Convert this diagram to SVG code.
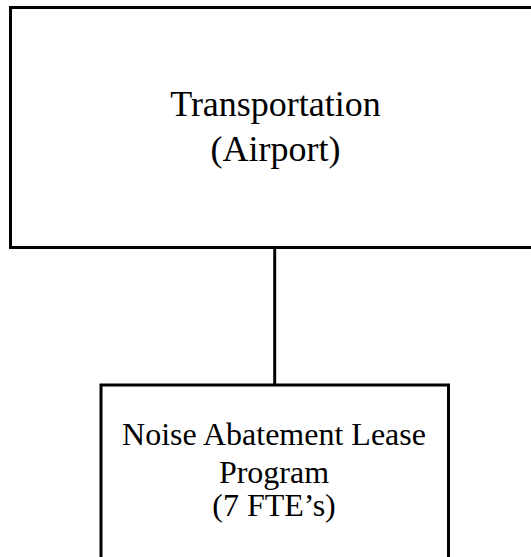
<svg xmlns="http://www.w3.org/2000/svg" width="531" height="557" viewBox="0 0 531 557">
<style>
.box{fill:#fff;stroke:#000;stroke-width:3}
.t1{font-family:"Liberation Serif","Times New Roman",serif;font-size:36px;fill:#000;text-anchor:middle}
.t2{font-family:"Liberation Serif","Times New Roman",serif;font-size:32px;fill:#000;text-anchor:middle}
.conn{stroke:#000;stroke-width:3;fill:none}
</style>
<rect width="531" height="557" fill="#fff"/>
<g id="connectors">
<line class="conn" x1="274.7" y1="247.5" x2="274.7" y2="385"/>
</g>
<g id="node-transportation">
<rect class="box" x="10.5" y="7.5" width="530" height="240"/>
<text class="t1" x="275.5" y="115.7">Transportation</text>
<text class="t1" x="275.5" y="160.7">(Airport)</text>
</g>
<g id="node-noise">
<rect class="box" x="101" y="385" width="347.5" height="190"/>
<text class="t2" x="274" y="445">Noise Abatement Lease</text>
<text class="t2" x="274" y="482.5">Program</text>
<text class="t2" x="274" y="516">(7 FTE’s)</text>
</g>
</svg>
